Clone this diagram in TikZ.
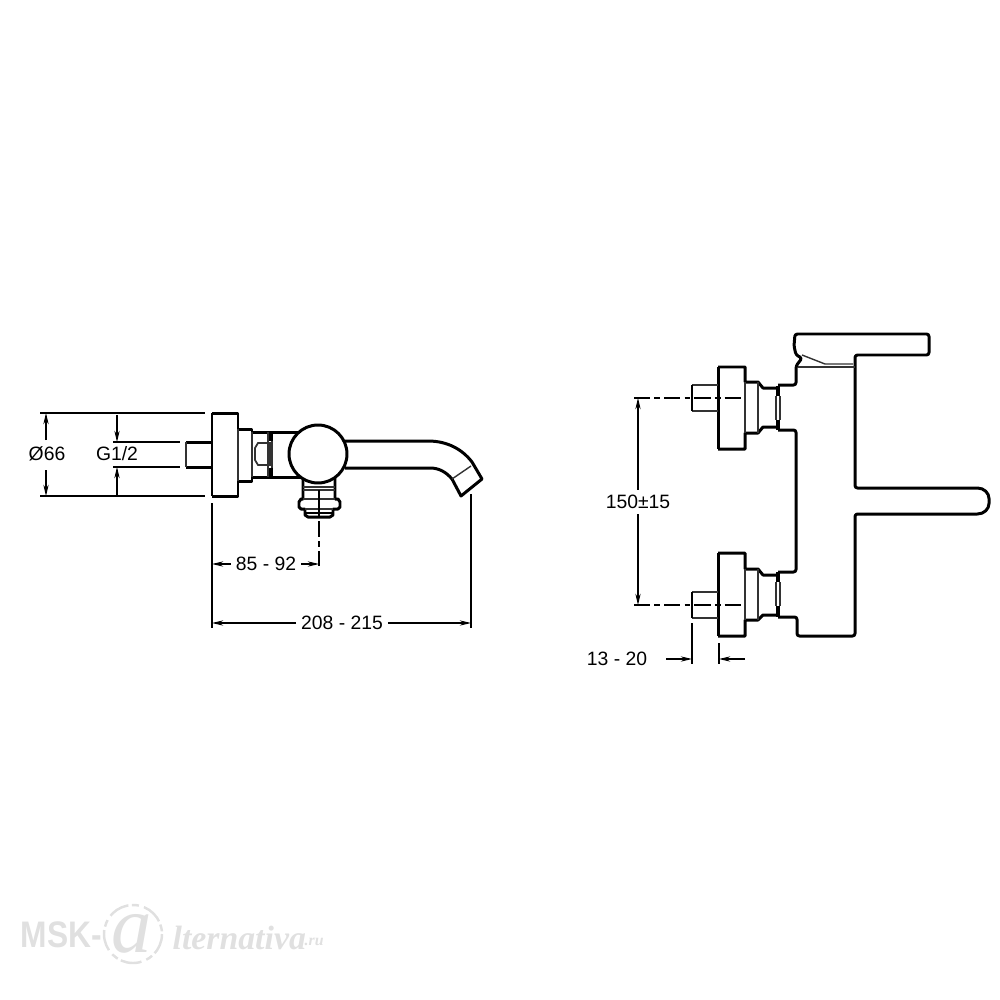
\documentclass[tikz,border=0pt]{standalone}
\usepackage{fontspec}
\usepackage{graphicx}
\setmainfont{Liberation Sans}
\newfontfamily\wmserif{Liberation Serif}
\usetikzlibrary{arrows.meta}
\definecolor{wmgray}{gray}{0.88}
\tikzset{
  heavy/.style={color=black, line width=0.85pt, line join=round},
  fine/.style={color=black!80, line width=0.3pt},
  dimline/.style={color=black, line width=0.3pt},
  dimarrow/.style={dimline, -{Stealth[length=3.2pt,width=1.5pt]}},
  centerline/.style={color=black, line width=0.4pt, dash pattern=on 4.6pt off 1.2pt on 1.6pt off 1.2pt},
  label/.style={inner sep=0pt, font=\fontsize{5.5}{6}\selectfont},
  wmtext/.style={inner sep=0pt, color=wmgray}
}
\begin{document}
\begin{tikzpicture}[x=0.01cm, y=-0.01cm]
  \useasboundingbox (0,0) rectangle (1000,1000);

  % side view
  \draw[heavy] (186,442) -- (212,442);
  \draw[heavy] (186,467) -- (212,467);
  \draw[fine, line width=0.5pt] (186,442) -- (186,467);
  \draw[heavy] (212,413) -- (238,413) -- (238,429) -- (252,429) -- (252,432) -- (300,432);
  \draw[heavy] (212,496) -- (238,496) -- (238,481) -- (252,481) -- (252,477) -- (303,477);
  \draw[heavy] (212,413) -- (212,496);
  \draw[fine] (238,429) -- (238,481);
  \draw[fine] (252,432) -- (252,477);
  \draw[fine] (268,432) -- (268,477);
  \draw[fine] (272,432) -- (272,477);
  \foreach \y in {432,468}
  {
  \draw[color=black, line width=1.3pt] (271,\y) -- (271,\y+9);
  }
  \draw[fine, line width=0.5pt] (258,443) -- (270,443) -- (270,465) -- (258,465) -- (255,460) -- (255,448) -- cycle;

  % spout
  \draw[heavy] (345,441) -- (428,441) .. controls (447,441) and (462,449) .. (472,462) -- (482,479) -- (461,496) -- (452,479) .. controls (446,472) and (439,468) .. (430,468) -- (345,468);
  \draw[fine, line width=0.4pt] (452,479) -- (471,466);

  % diverter under the ball
  \draw[heavy] (303,477) -- (303,499) -- (301,499) -- (299,502) -- (299,507) -- (301,509) -- (305,509) -- (305,515) -- (308,517) -- (330,517) -- (333,515) -- (333,509) -- (338,509) -- (340,507) -- (340,502) -- (338,499) -- (335,499) -- (335,477);
  \draw[fine] (305,509) -- (333,509);
  \draw[heavy, line width=0.6pt] (306,513) -- (332,513);
  \draw[fine] (303,487) -- (335,487);
  \draw[fine] (303,490) -- (335,490);
  \draw[fine] (303,499) -- (335,499);
  \draw[heavy, fill=white] (318,454) circle (29);

  % centre line and spout dimensions
  \draw[dimline] (319,490) -- (319,517);
  \draw[centerline] (319,521) -- (319,566);
  \draw[dimline] (40,413) -- (205,413);
  \draw[dimline] (40,496) -- (205,496);
  \draw[dimline] (113,442) -- (180,442);
  \draw[dimline] (113,467) -- (180,467);
  \draw[dimline] (212,503) -- (212,628);
  \draw[dimline] (471,494) -- (471,628);

  \node[label] (dia) at (47,454) {Ø66};
  \node[label] (thread) at (117,454) {G1/2};
  \node[label] (reach) at (266,564) {85 - 92};
  \node[label] (length) at (342,623) {208 - 215};
  \coordinate (diatop) at (46,413);
  \coordinate (diabot) at (46,496);
  \coordinate (threadtop) at (117,442);
  \coordinate (threadbot) at (117,467);
  \draw[dimarrow] (46,440) -- (diatop);
  \draw[dimarrow] (46,470) -- (diabot);
  \draw[dimarrow] (117,415) -- (threadtop);
  \draw[dimarrow] (117,496) -- (threadbot);
  \draw[dimarrow] ([xshift=-1.2pt]reach.west) -- (212,564);
  \draw[dimarrow] ([xshift=1.2pt]reach.east) -- (319,564);
  \draw[dimarrow] ([xshift=-1.2pt]length.west) -- (212,623);
  \draw[dimarrow] ([xshift=1.2pt]length.east) -- (471,623);

  % front view, body and lever
  \draw[heavy, rounded corners=0.7pt] (778,385) -- (796,385) -- (796,366) -- (802,358) -- (796,355) -- (794,346) -- (795,334) -- (929,334) -- (929,355) -- (855,355) -- (855,488) -- (975,488) .. controls (984,488) and (989,493) .. (989,501) .. controls (989,509) and (984,514) .. (975,514) -- (855,514) -- (855,636) -- (797,636) -- (797,617) -- (778,617);
  \draw[heavy, rounded corners=0.7pt] (778,430) -- (796,430) -- (796,572) -- (778,572);
  \draw[fine, line width=0.5pt] (798,367) -- (855,367);
  \draw[fine, line width=0.4pt] (802,355) -- (825,364) -- (853,364);

  % upper valve
  \draw[heavy] (718,367) -- (745,367) -- (745,382) -- (758,382) -- (763,388) -- (778,388);
  \draw[heavy] (718,449) -- (745,449) -- (745,433) -- (758,433) -- (763,427) -- (778,427);
  \draw[heavy] (718,367) -- (718,449);
  \draw[fine, line width=0.5pt] (692,385) -- (718,385);
  \draw[fine, line width=0.5pt] (692,411) -- (718,411);
  \draw[heavy, line width=0.6pt] (692,385) -- (692,411);
  \draw[fine] (745,382) -- (745,433);
  \draw[fine] (758,382) -- (758,433);
  \draw[fine] (776,396) -- (776,420);
  \draw[fine] (780,396) -- (780,420);
  \draw[color=black, line width=1.3pt] (778,386) -- (778,396);
  \draw[color=black, line width=1.3pt] (778,420) -- (778,430);

  % lower valve
  \draw[heavy] (718,553) -- (745,553) -- (745,569) -- (758,569) -- (763,575) -- (778,575);
  \draw[heavy] (718,636) -- (745,636) -- (745,620) -- (758,620) -- (763,615) -- (778,615);
  \draw[heavy] (718,553) -- (718,636);
  \draw[fine, line width=0.5pt] (692,592) -- (718,592);
  \draw[fine, line width=0.5pt] (692,618) -- (718,618);
  \draw[heavy, line width=0.6pt] (692,592) -- (692,618);
  \draw[fine] (745,569) -- (745,620);
  \draw[fine] (758,569) -- (758,620);
  \draw[fine] (776,582) -- (776,606);
  \draw[fine] (780,582) -- (780,606);
  \draw[color=black, line width=1.3pt] (778,572) -- (778,582);
  \draw[color=black, line width=1.3pt] (778,606) -- (778,617);

  % front view dimensions
  \draw[centerline] (634,398) -- (742,398);
  \draw[centerline] (634,605) -- (742,605);
  \draw[dimline] (692,623) -- (692,664);
  \draw[dimline] (719,643) -- (719,664);
  \node[label] (spacing) at (638,502) {150±15};
  \node[label] (stem) at (617,659) {13 - 20};
  \coordinate (spacingtop) at (638,398);
  \coordinate (spacingbot) at (638,605);
  \coordinate (stemleft) at (692,659);
  \coordinate (stemright) at (719,659);
  \draw[dimarrow] ([yshift=1.4pt]spacing.north) -- (spacingtop);
  \draw[dimarrow] ([yshift=-1.4pt]spacing.south) -- (spacingbot);
  \draw[dimarrow] (666,659) -- (stemleft);
  \draw[dimarrow] (745,659) -- (stemright);

  % watermark
  \node[wmtext, anchor=west, font=\fontsize{10.5}{12}\selectfont\bfseries] (wmname) at (20,935) {\scalebox{0.86}[1]{MSK-}};
  \draw[wmgray, line width=0.7pt, dash pattern=on 6pt off 1pt on 2pt off 1.5pt] (133,934) circle (29);
  \node[wmtext, font=\wmserif\fontsize{23}{24}\selectfont\itshape] (wmat) at (132,934) {a};
  \node[wmtext, anchor=west, font=\wmserif\fontsize{9.6}{12}\selectfont\itshape\bfseries] (wmrest) at (172,938) {lternativa};
  \node[wmtext, anchor=west, font=\wmserif\fontsize{4.5}{6}\selectfont\itshape\bfseries] (wmru) at (304,942) {.ru};
\end{tikzpicture}
\end{document}
